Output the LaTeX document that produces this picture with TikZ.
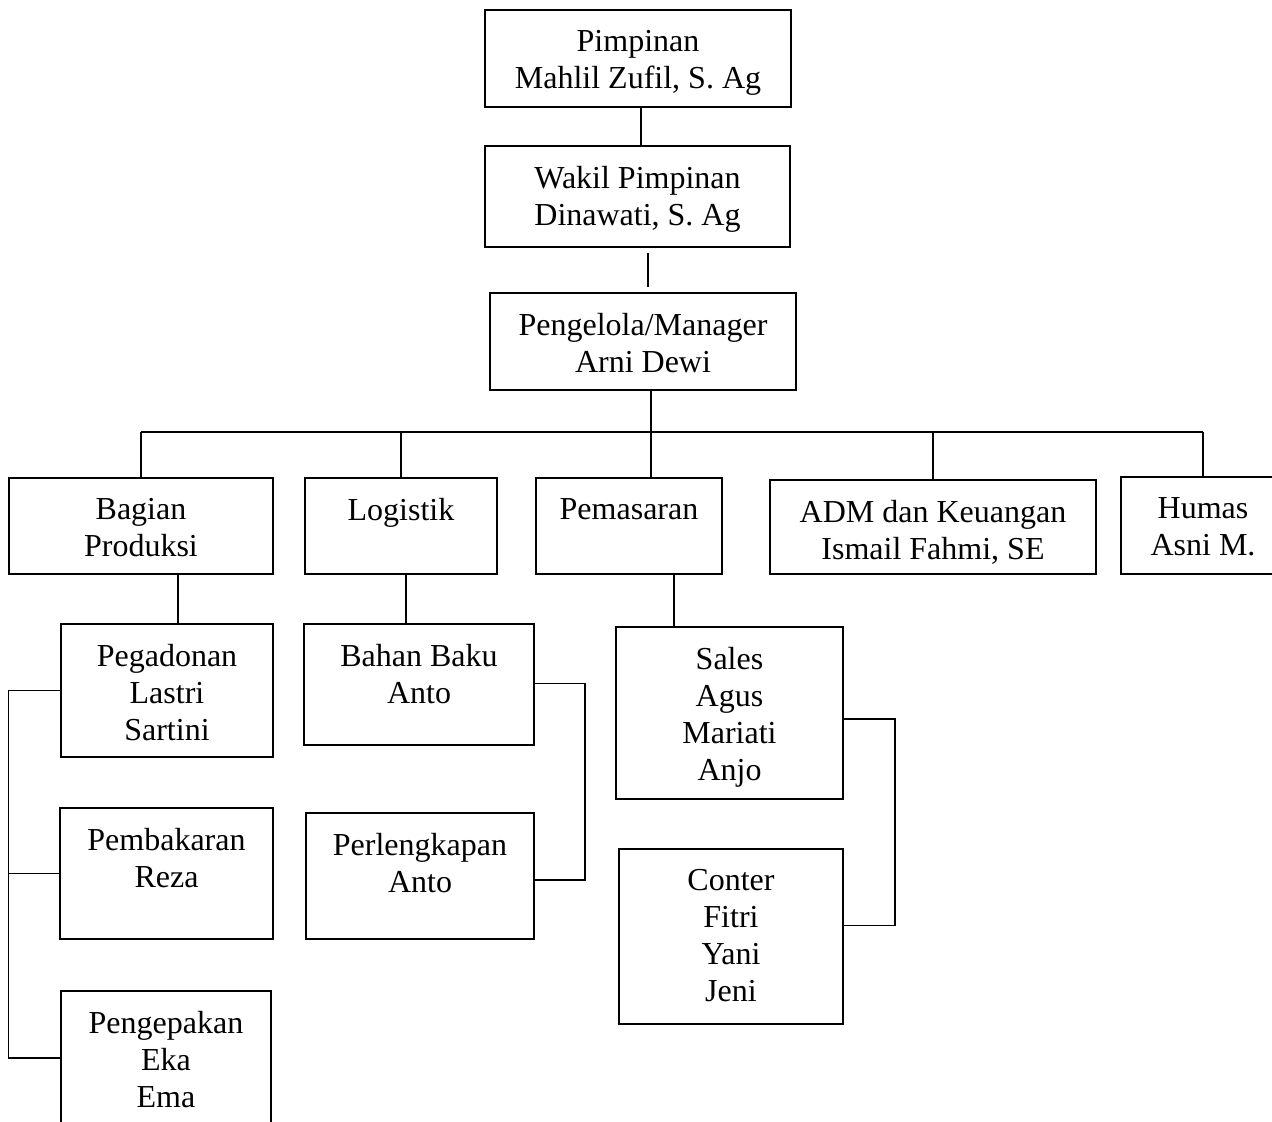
\documentclass[tikz,border=0pt]{standalone}
\usepackage{fontspec}
\setmainfont{Liberation Serif}
\usepackage{tikz}
\usetikzlibrary{positioning,calc}
\tikzset{
  orgbox/.style={draw=black,line width=1.5pt,inner sep=0pt},
  boxtext/.style={align=center,anchor=north,inner sep=0pt,
    font=\fontsize{32}{37}\selectfont},
  orgline/.style={draw=black,line width=1.5pt}
}

\begin{document}
\begin{tikzpicture}[x=1pt,y=-1pt]
  \useasboundingbox (0,0) rectangle (1272,1122);
  \clip (0,0) rectangle (1272,1122);

  % top of the chart
  \node[orgbox,minimum width=306pt,minimum height=97pt] (pimpinan) at (638,58.5) {};
  \node[boxtext] (pimpinantext) at ([yshift=-21pt]pimpinan.north) {Pimpinan\\Mahlil Zufil, S. Ag};
  \node[orgbox,minimum width=305pt,minimum height=101pt] (wakil) at (637.5,196.5) {};
  \node[boxtext] (wakiltext) at ([yshift=-21pt]wakil.north) {Wakil Pimpinan\\Dinawati, S. Ag};
  \node[orgbox,minimum width=306pt,minimum height=97pt] (manager) at (643,341.5) {};
  \node[boxtext] (managertext) at ([yshift=-21pt]manager.north) {Pengelola/Manager\\Arni Dewi};

  % divisions
  \node[orgbox,minimum width=264pt,minimum height=96pt] (produksi) at (141,526) {};
  \node[boxtext] (produksitext) at ([yshift=-21pt]produksi.north) {Bagian\\Produksi};
  \node[orgbox,minimum width=192pt,minimum height=96pt] (logistik) at (401,526) {};
  \node[boxtext] (logistiktext) at ([yshift=-21pt]logistik.north) {Logistik};
  \node[orgbox,minimum width=186pt,minimum height=96pt] (pemasaran) at (629,526) {};
  \node[boxtext] (pemasarantext) at ([yshift=-21pt]pemasaran.north) {Pemasaran};
  \node[orgbox,minimum width=326pt,minimum height=94pt] (adm) at (933,527) {};
  \node[boxtext] (admtext) at ([yshift=-21pt]adm.north) {ADM dan Keuangan\\Ismail Fahmi, SE};
  \node[orgbox,minimum width=164pt,minimum height=97pt] (humas) at (1203,525.5) {};
  \node[boxtext] (humastext) at ([yshift=-21pt]humas.north) {Humas\\Asni M.};

  % produksi
  \node[orgbox,minimum width=212pt,minimum height=133pt] (pegadonan) at (167,690.5) {};
  \node[boxtext] (pegadonantext) at ([yshift=-21pt]pegadonan.north) {Pegadonan\\Lastri\\Sartini};
  \node[orgbox,minimum width=213pt,minimum height=131pt] (pembakaran) at (166.5,873.5) {};
  \node[boxtext] (pembakarantext) at ([yshift=-21pt]pembakaran.north) {Pembakaran\\Reza};
  \node[orgbox,minimum width=210pt,minimum height=134pt] (pengepakan) at (166,1058) {};
  \node[boxtext] (pengepakantext) at ([yshift=-21pt]pengepakan.north) {Pengepakan\\Eka\\Ema};

  % logistik
  \node[orgbox,minimum width=230pt,minimum height=121pt] (bahan) at (419,684.5) {};
  \node[boxtext] (bahantext) at ([yshift=-21pt]bahan.north) {Bahan Baku\\Anto};
  \node[orgbox,minimum width=228pt,minimum height=126pt] (perlengkapan) at (420,876) {};
  \node[boxtext] (perlengkapantext) at ([yshift=-21pt]perlengkapan.north) {Perlengkapan\\Anto};

  % pemasaran
  \node[orgbox,minimum width=227pt,minimum height=172pt] (sales) at (729.5,713) {};
  \node[boxtext] (salestext) at ([yshift=-21pt]sales.north) {Sales\\Agus\\Mariati\\Anjo};
  \node[orgbox,minimum width=224pt,minimum height=175pt] (conter) at (731,936.5) {};
  \node[boxtext] (contertext) at ([yshift=-21pt]conter.north) {Conter\\Fitri\\Yani\\Jeni};

  % connectors
  \coordinate (bus) at (651,432);
  \draw[orgline] ([xshift=3pt]pimpinan.south) -- ([xshift=3pt]pimpinan.south |- wakil.north);
  \draw[orgline,shorten <=5pt,shorten >=5pt] ([xshift=5pt]manager.north |- wakil.south) -- ([xshift=5pt]manager.north);
  \draw[orgline] (bus |- manager.south) -- (bus |- pemasaran.north);
  \draw[orgline] (produksi.north |- bus) -- (humas.north |- bus);
  \foreach \n in {produksi,logistik,adm,humas}
    \draw[orgline] (\n.north |- bus) -- (\n.north);

  \draw[orgline] ([xshift=37pt]produksi.south) -- ([xshift=37pt]produksi.south |- pegadonan.north);
  \draw[orgline] (pegadonan.west) -- (pegadonan.west -| produksi.west) |- (pengepakan.west);
  \draw[orgline] (pembakaran.west) -- (pembakaran.west -| produksi.west);

  \draw[orgline] ([xshift=5pt]logistik.south) -- ([xshift=5pt]logistik.south |- bahan.north);
  \draw[orgline] ([yshift=1pt]bahan.east) -- ++(50,0) |- ([yshift=-4pt]perlengkapan.east);

  \draw[orgline] ([xshift=45pt]pemasaran.south) -- ([xshift=45pt]pemasaran.south |- sales.north);
  \draw[orgline] ([yshift=-6pt]sales.east) -- ++(51,0) |- ([yshift=11pt]conter.east);
\end{tikzpicture}
\end{document}
